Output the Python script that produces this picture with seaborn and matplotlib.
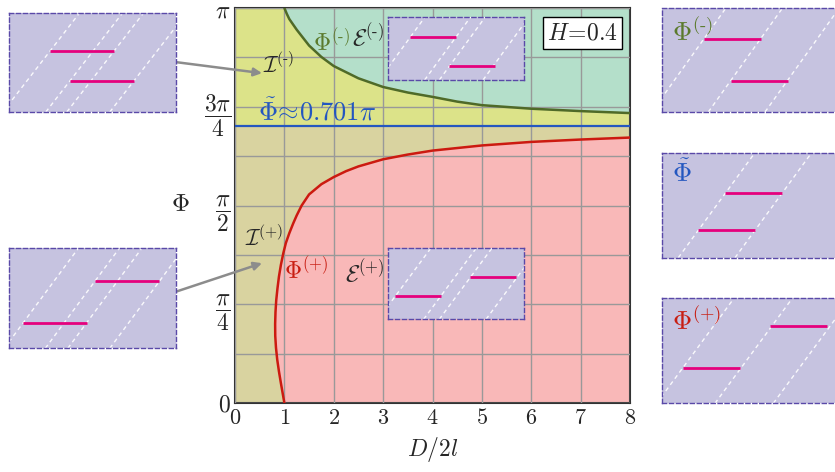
import numpy as np
import matplotlib
matplotlib.use("Agg")
import matplotlib.pyplot as plt
import seaborn as sns

# boundary curves (phase given in units of pi)
green_x = [1.0, 1.05, 1.1, 1.25, 1.5, 1.75, 2.0, 2.5, 3.0, 3.5, 4.0, 4.5, 5.0, 6.0, 7.0, 8.0]
green_phi = [1.0, 0.985, 0.972, 0.945, 0.905, 0.876, 0.853, 0.822, 0.80, 0.786, 0.775, 0.763, 0.754,
             0.745, 0.739, 0.734]

red_x = [1.0, 0.965, 0.93, 0.89, 0.855, 0.83, 0.815, 0.813, 0.82, 0.835, 0.86, 0.89, 0.93, 0.98,
         1.03, 1.1, 1.18, 1.25, 1.35, 1.5, 1.75, 2.0, 2.25, 2.5, 3.0, 3.5, 4.0, 5.0, 6.0, 7.0, 8.0]
red_phi = [0.0, 0.025, 0.05, 0.08, 0.11, 0.14, 0.17, 0.2, 0.23, 0.26, 0.29, 0.32, 0.35, 0.38,
           0.405, 0.43, 0.455, 0.475, 0.5, 0.528, 0.554, 0.572, 0.587, 0.599, 0.617, 0.629, 0.639,
           0.652, 0.661, 0.667, 0.672]

phi_tilde = 0.701
H_value = 0.4

x_ticks = [0, 1, 2, 3, 4, 5, 6, 7, 8]
y_ticks = [0, 0.25, 0.5, 0.75, 1.0]
y_tick_labels = [r'$0$', r'$\dfrac{\pi}{4}$', r'$\dfrac{\pi}{2}$', r'$\dfrac{3\pi}{4}$', r'$\pi$']
y_grid = [0.125, 0.375, 0.625, 0.875]

# schematic insets: box (left, top, w, h) in px, dashed line offsets, slant, magenta segments
insets = [
    dict(box=(9.3, 12.7, 166.4, 99.3), lines=[-6.5, 36.5, 57.5, 100.5], slope=0.775,
         segs=[(40.7, 104.7, 61.3), (60.7, 124.7, 31.3)]),
    dict(box=(9.3, 248.3, 166.4, 100), lines=[-5, 36, 58.5, 100.5], slope=0.74,
         segs=[(14, 77.4, 25.6), (86, 149.7, 67.6)]),
    dict(box=(388.3, 16.7, 136, 63.3), lines=[-9.3, 36.3, 51, 94.7], slope=0.73,
         segs=[(21.7, 67.7, 42.7), (60.7, 106.7, 14)]),
    dict(box=(388.3, 248.3, 136, 71), lines=[-10.1, 35.3, 51, 97.7], slope=0.74,
         segs=[(6.7, 52.7, 23), (81.7, 127.3, 42)]),
    dict(box=(662.3, 8.3, 180, 103.7), lines=[-10.6, 46, 102.7], slope=0.714,
         segs=[(42, 98.7, 73.3), (68.7, 125.3, 31.3)],
         label=r'$\Phi^{(\text{-})}$', color='#5b7a2c', ly=81),
    dict(box=(662.3, 153.3, 180, 104.4), lines=[16, 72.7], slope=0.73,
         segs=[(62.7, 119.7, 64.7), (35.4, 92.7, 27.7)],
         label=r'$\tilde{\Phi}$', color='#2457c0', ly=83.7),
    dict(box=(662.3, 298.3, 180, 105), lines=[-5.6, 52.7, 111], slope=0.736,
         segs=[(20.7, 77.7, 35.6), (107.7, 164.7, 77.6)],
         label=r'$\Phi^{(+)}$', color='#c81e12', ly=83.3),
]

FW, FH = 835, 472
PI = np.pi

sns.set_theme(style='white')
plt.rcParams['font.family'] = ['DejaVu Serif']
plt.rcParams['mathtext.fontset'] = 'cm'

fig = plt.figure(figsize=(FW / 100, FH / 100), dpi=100)
ax = fig.add_axes([235 / FW, 1 - 403 / FH, 395 / FW, 395 / FH])

gx = np.array(green_x)
gp = np.array(green_phi) * PI
rx = np.array(red_x)
rp = np.array(red_phi) * PI

# coloured regions
ax.set_facecolor('#d9d3a0')
ax.fill_between([0, 8], phi_tilde * PI, PI, color='#dce389', lw=0, zorder=0.2)
ax.fill_between(gx, gp, PI, color='#b4dfca', lw=0, zorder=0.3)
ax.fill_betweenx(rp, rx, 8, color='#f9b8b8', lw=0, zorder=0.3)

ax.set_axisbelow(False)
ax.grid(which='both', color='#999999', lw=1.0, zorder=1)

sns.lineplot(x=gx, y=gp, ax=ax, color='#4f6a28', lw=1.8, sort=False, estimator=None, zorder=3)
sns.lineplot(x=rx, y=rp, ax=ax, color='#cc1a10', lw=1.8, sort=False, estimator=None, zorder=3)
ax.axhline(phi_tilde * PI, color='#2457c0', lw=1.6, zorder=3)

ax.set_xlim(0, 8)
ax.set_ylim(0, PI)
ax.set_xticks(x_ticks)
ax.set_xticklabels([f'${t}$' for t in x_ticks], fontsize=16)
ax.set_yticks([t * PI for t in y_ticks])
ax.set_yticklabels(y_tick_labels, fontsize=17)
ax.set_yticks([t * PI for t in y_grid], minor=True)
ax.tick_params(which='both', length=0, pad=3)
for s in ax.spines.values():
    s.set_color('#333333')
    s.set_linewidth(1.5)
ax.set_xlabel(r'$D/2l$', fontsize=17, labelpad=4)
fig.text(180 / FW, 1 - 205 / FH, r'$\Phi$', fontsize=18, ha='center', va='center')

# labels inside the diagram
ax.text(7.04, 0.937 * PI, rf'$H\!=\!{H_value}$', fontsize=17, ha='center', va='center',
        bbox=dict(facecolor='white', edgecolor='black', lw=1, pad=3), zorder=5)
ax.text(1.66, 0.736 * PI, rf'$\tilde{{\Phi}}\!\approx\!{phi_tilde}\pi$', fontsize=19,
        color='#2457c0', ha='center', va='center', zorder=5)
ax.text(1.96, 0.911 * PI, r'$\Phi^{(\text{-})}$', fontsize=17, color='#5b7a2c',
        ha='center', va='center', zorder=5)
ax.text(2.7, 0.926 * PI, r'$\mathcal{E}^{(\text{-})}$', fontsize=17, ha='center', va='center', zorder=5)
ax.text(0.89, 0.853 * PI, r'$\mathcal{I}^{(\text{-})}$', fontsize=16, ha='center', va='center', zorder=5)
ax.text(0.59, 0.415 * PI, r'$\mathcal{I}^{(+)}$', fontsize=16, ha='center', va='center', zorder=5)
ax.text(1.44, 0.334 * PI, r'$\Phi^{(+)}$', fontsize=17, color='#c81e12', ha='center', va='center', zorder=5)
ax.text(2.63, 0.329 * PI, r'$\mathcal{E}^{(+)}$', fontsize=17, ha='center', va='center', zorder=5)

# arrows from the outside sketches
for src, dst in [((175, 62), (0.547, 0.835)), ((175, 292), (0.547, 0.354))]:
    ax.annotate('', xy=(dst[0], dst[1] * PI), xytext=(src[0] / FW, 1 - src[1] / FH),
                textcoords='figure fraction', annotation_clip=False,
                arrowprops=dict(arrowstyle='-|>', color='#8c8c8c', lw=1.8, mutation_scale=12,
                                shrinkA=0, shrinkB=0))

for ins in insets:
    left, top, w, h = ins['box']
    a = fig.add_axes([left / FW, 1 - (top + h) / FH, w / FW, h / FH])
    a.set_facecolor('#c6c3e0')
    a.set_xlim(0, w)
    a.set_ylim(0, h)
    a.set_xticks([])
    a.set_yticks([])
    for b in ins['lines']:
        a.plot([b, b + ins['slope'] * h], [0, h], color='white', lw=1.0, ls=(0, (3, 2.5)), alpha=0.9)
    for x0, x1, y in ins['segs']:
        a.plot([x0, x1], [y, y], color='#e5007d', lw=2.0, solid_capstyle='butt')
    for s in a.spines.values():
        s.set_color('#5a49a8')
        s.set_linestyle((0, (3, 2)))
        s.set_linewidth(1.0)
    if 'label' in ins:
        a.text(9.4, ins['ly'], ins['label'], fontsize=19, color=ins['color'], ha='left', va='center')

fig.savefig('out.png', dpi=100)
